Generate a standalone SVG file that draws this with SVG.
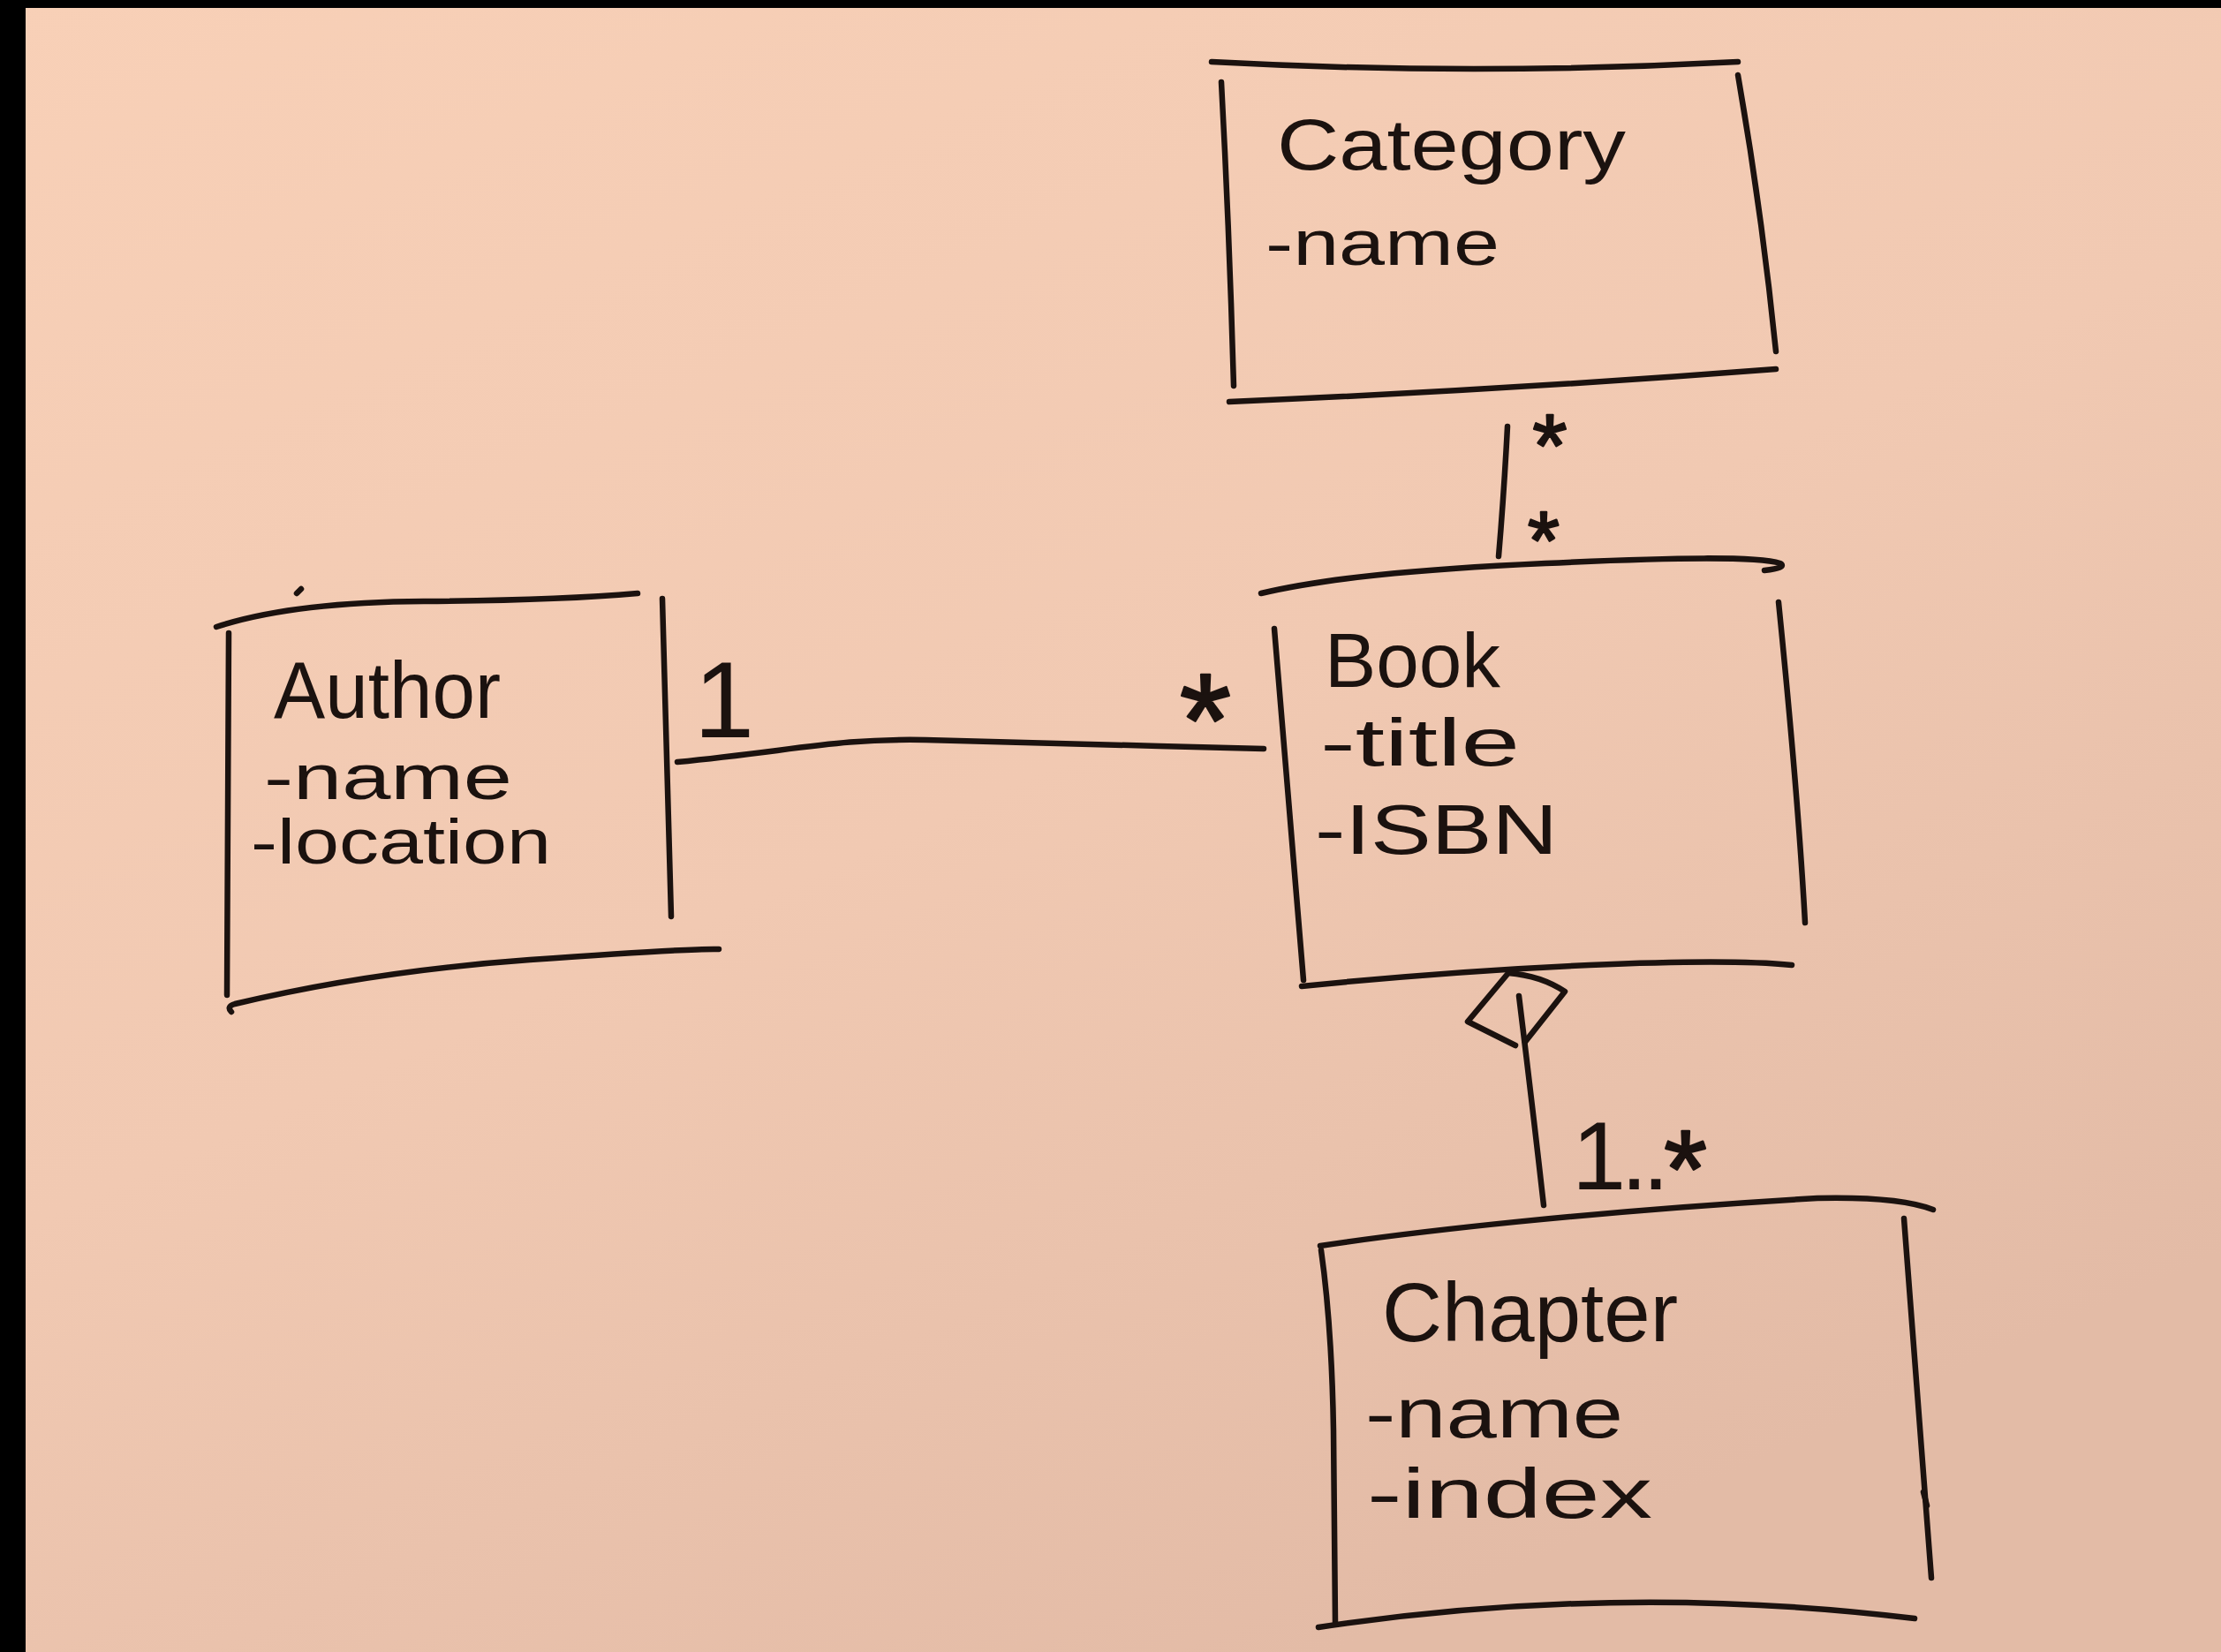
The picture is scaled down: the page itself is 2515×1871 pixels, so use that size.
<svg xmlns="http://www.w3.org/2000/svg" width="2515" height="1871" viewBox="0 0 2515 1871">
  <style>
    .ink { fill: none; stroke: #1b120f; stroke-width: 6.5; stroke-linecap: round; stroke-linejoin: round; }
    .title { font-family: "Liberation Sans", Arial, sans-serif; fill: #1b120f; }
    .attr { font-family: "Liberation Sans", Arial, sans-serif; fill: #1b120f; }
    .mult { font-family: "Liberation Sans", Arial, sans-serif; fill: #1b120f; }
    .star { stroke: #1b120f; stroke-width: 2.5; stroke-linejoin: round; }
  </style>
  <defs>
    <linearGradient id="paper" x1="0" y1="0" x2="0.6" y2="1">
      <stop offset="0" stop-color="#f8d0b7"/>
      <stop offset="0.55" stop-color="#f1c9b2"/>
      <stop offset="1" stop-color="#e3bba6"/>
    </linearGradient>
  </defs>
  <rect x="0" y="0" width="2515" height="1871" fill="url(#paper)"/>
  <rect x="0" y="0" width="2515" height="9" fill="#000"/>
  <rect x="0" y="0" width="29" height="1871" fill="#000"/>

  <g id="node-category">
    <path class="ink" d="M1372,70 Q1668,86 1968,70"/>
    <path class="ink" d="M1383,93 Q1392,260 1397,437"/>
    <path class="ink" d="M1968,85 Q1995,240 2011,398"/>
    <path class="ink" d="M1392,455 Q1700,442 2011,418"/>
    <text class="title" x="1446" y="192" font-size="82" textLength="395" lengthAdjust="spacingAndGlyphs">Category</text>
    <text class="attr" x="1433" y="300" font-size="72" textLength="265" lengthAdjust="spacingAndGlyphs">-name</text>
  </g>

  <g id="node-author">
    <path class="ink" d="M245,710 Q330,682 480,681 T722,672"/>
    <path class="ink" d="M336,672 L341,667"/>
    <path class="ink" d="M259,717 L257,1127"/>
    <path class="ink" d="M750,678 L760,1038"/>
    <path class="ink" d="M262,1146 Q256,1140 266,1137 Q420,1100 600,1087 T814,1075"/>
    <text class="title" x="310" y="813" font-size="90" textLength="257" lengthAdjust="spacingAndGlyphs">Author</text>
    <text class="attr" x="299" y="905" font-size="72" textLength="281" lengthAdjust="spacingAndGlyphs">-name</text>
    <text class="attr" x="284" y="978" font-size="72" textLength="340" lengthAdjust="spacingAndGlyphs">-location</text>
  </g>

  <g id="node-book">
    <path class="ink" d="M1428,672 C1500,655 1600,645 1750,638 S1990,630 2016,638 Q2024,643 1998,646"/>
    <path class="ink" d="M1443,712 L1476,1110"/>
    <path class="ink" d="M2014,682 Q2036,900 2044,1045"/>
    <path class="ink" d="M1474,1117 Q1640,1100 1800,1093 T2029,1093"/>
    <text class="title" x="1500" y="778" font-size="88" textLength="199" lengthAdjust="spacingAndGlyphs">Book</text>
    <text class="attr" x="1495" y="867" font-size="76" textLength="226" lengthAdjust="spacingAndGlyphs">-title</text>
    <text class="attr" x="1489" y="967" font-size="80" textLength="275" lengthAdjust="spacingAndGlyphs">-ISBN</text>
  </g>

  <g id="node-chapter">
    <path class="ink" d="M1495,1411 C1600,1395 1800,1372 2058,1357 Q2150,1355 2189,1370"/>
    <path class="ink" d="M1496,1416 Q1508,1500 1510,1620 L1512,1838"/>
    <path class="ink" d="M2156,1380 L2187,1787"/>
    <path class="ink" d="M2178,1690 L2182,1705"/>
    <path class="ink" d="M1493,1843 Q1833,1792 2168,1833"/>
    <text class="title" x="1565" y="1519" font-size="95" textLength="335" lengthAdjust="spacingAndGlyphs">Chapter</text>
    <text class="attr" x="1546" y="1628" font-size="80" textLength="292" lengthAdjust="spacingAndGlyphs">-name</text>
    <text class="attr" x="1548" y="1719" font-size="80" textLength="323" lengthAdjust="spacingAndGlyphs">-index</text>
  </g>

  <g id="connectors">
    <g id="edge-author-book">
      <path class="ink" d="M767,863 C900,850 950,836 1048,838 S1300,845 1431,848"/>
      <text class="mult" x="820" y="835" font-size="123" text-anchor="middle">1</text>
      <text class="mult star" x="1365" y="868" font-size="150" text-anchor="middle">*</text>
    </g>
    <g id="edge-category-book">
      <path class="ink" d="M1707,483 Q1703,560 1697,630"/>
      <text class="mult star" x="1755" y="539" font-size="100" text-anchor="middle">*</text>
      <text class="mult star" x="1748" y="644" font-size="92" text-anchor="middle">*</text>
    </g>
    <g id="edge-book-chapter">
      <path class="ink" d="M1708,1102 Q1745,1105 1772,1123 L1727,1180 M1716,1184 L1662,1157 L1708,1102"/>
      <path class="ink" d="M1720,1128 Q1735,1250 1748,1365"/>
      <text class="mult" x="1780" y="1347" font-size="110" letter-spacing="-6">1..<tspan class="star" dy="20" font-size="125">*</tspan></text>
    </g>
  </g>
</svg>
